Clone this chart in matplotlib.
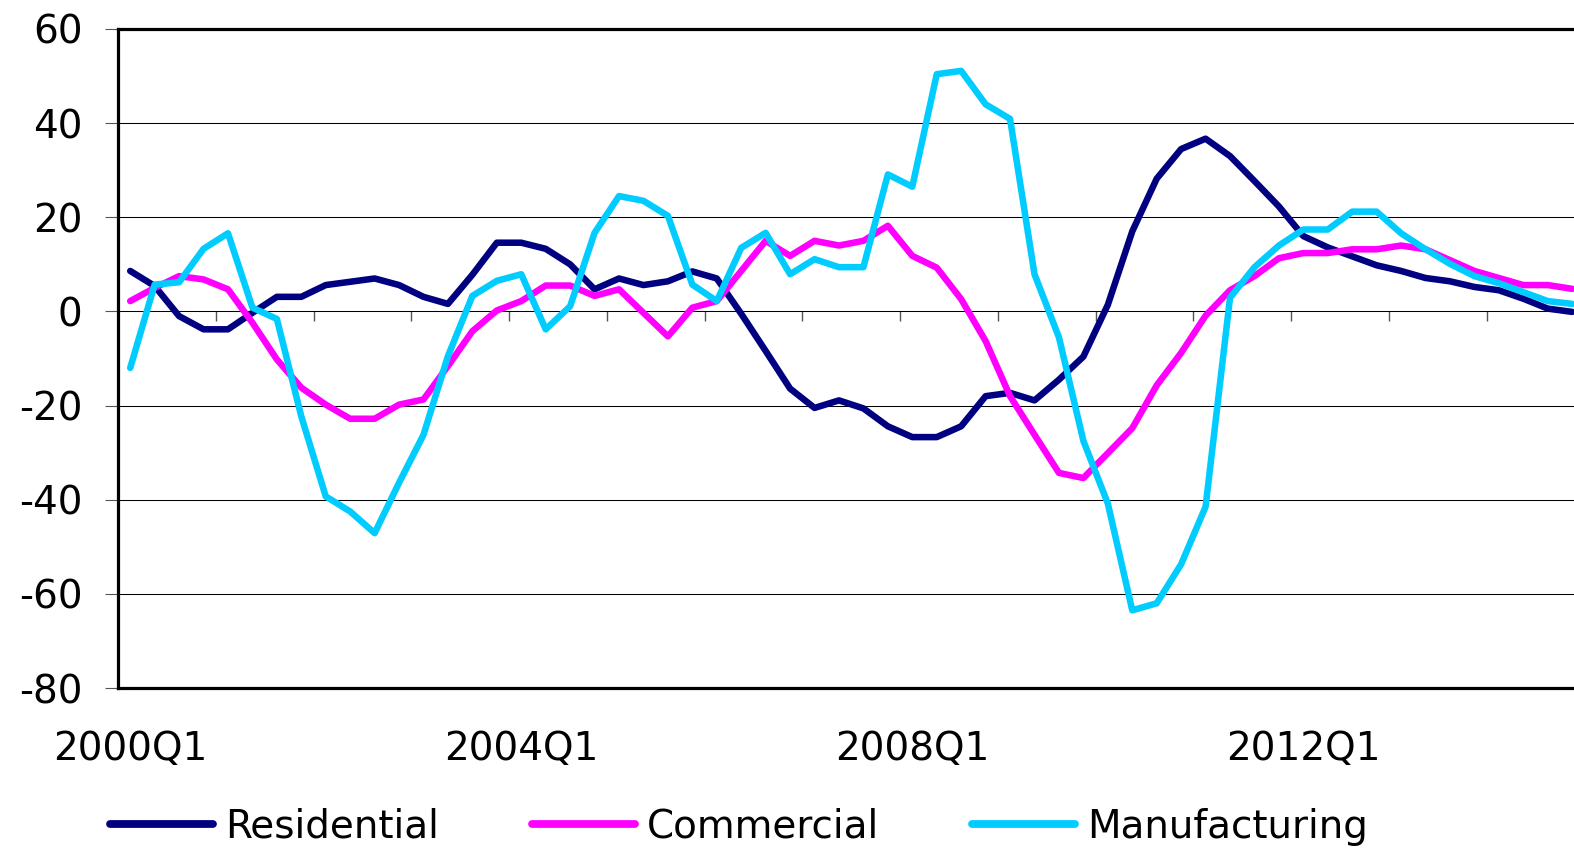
import numpy as np
import matplotlib
matplotlib.use('Agg')
import matplotlib.pyplot as plt

# ---- data ----
years = list(range(2000, 2015))
quarters = [f"{y}Q{q}" for y in years for q in range(1, 5)]

residential = [8.6, 5.4, -1.0, -3.8, -3.8, -0.3, 3.1, 3.1, 5.6, 6.3,
               7.0, 5.6, 3.1, 1.6, 7.8, 14.6, 14.6, 13.3, 10.0, 4.7,
               7.0, 5.6, 6.4, 8.5, 7.0, -0.5, -8.4, -16.4, -20.5, -18.9,
               -20.6, -24.4, -26.7, -26.7, -24.4, -18.0, -17.3, -18.9, -14.5, -9.6,
               1.4, 17.0, 28.2, 34.5, 36.7, 33.0, 27.7, 22.3, 16.0, 13.6,
               11.7, 9.8, 8.6, 7.1, 6.4, 5.2, 4.5, 2.7, 0.6, -0.1]

commercial = [2.2, 5.0, 7.5, 6.8, 4.7, -2.4, -10.2, -16.2, -19.8, -22.8,
              -22.8, -19.8, -18.7, -11.6, -4.2, 0.2, 2.2, 5.5, 5.5, 3.3,
              4.7, -0.3, -5.3, 0.8, 2.2, 8.6, 15.0, 11.8, 15.0, 14.0,
              15.0, 18.2, 11.8, 9.3, 2.6, -6.3, -18.0, -26.2, -34.3, -35.4,
              -30.1, -24.8, -15.7, -8.8, -0.9, 4.5, 7.5, 11.3, 12.4, 12.4,
              13.2, 13.2, 14.0, 13.2, 10.9, 8.6, 7.1, 5.6, 5.6, 4.8]

manufacturing = [-12.0, 5.7, 6.2, 13.3, 16.6, 0.8, -1.6, -22.3, -39.3, -42.5,
                 -47.1, -36.4, -26.2, -9.5, 3.3, 6.5, 7.9, -3.8, 1.1, 16.7,
                 24.5, 23.5, 20.3, 5.7, 2.2, 13.5, 16.7, 7.9, 11.1, 9.4,
                 9.4, 29.1, 26.5, 50.4, 51.1, 44.0, 40.9, 7.9, -5.5, -27.5,
                 -40.8, -63.5, -62.0, -53.7, -41.5, 2.9, 9.4, 14.0, 17.4, 17.4,
                 21.2, 21.2, 16.6, 13.2, 10.1, 7.5, 6.0, 4.1, 2.2, 1.6]

series_names = ['Residential', 'Commercial', 'Manufacturing']
colors = ['#000080', '#FF00FF', '#00CCFF']
tick_labels = ['2000Q1', '2004Q1', '2008Q1', '2012Q1']
y_ticks = [-80, -60, -40, -20, 0, 20, 40, 60]

# ---- plot ----
plt.rcParams['font.family'] = ['DejaVu Sans']
plt.rcParams['axes.unicode_minus'] = False
FS = 28

W, H = 1574, 850
fig = plt.figure(figsize=(W / 100, H / 100), dpi=100)
ax = fig.add_axes([118 / W, 1 - 688 / H, 1466.4 / W, 659 / H])

x = np.arange(len(quarters))
for vals, name, c in zip([residential, commercial, manufacturing], series_names, colors):
    ax.plot(x, vals, color=c, lw=4.7, label=name,
            solid_joinstyle='round', solid_capstyle='round')

ax.set_xlim(-0.5, len(quarters) - 0.5)
ax.set_ylim(min(y_ticks), max(y_ticks))
ax.set_yticks(y_ticks)
ax.yaxis.grid(True, color='black', lw=0.75)
ax.set_axisbelow(True)
ax.spines['right'].set_visible(False)
for s in ['left', 'bottom', 'top']:
    ax.spines[s].set_linewidth(2.3)
ax.tick_params(axis='y', direction='out', length=9.5, width=0.8,
               color='#555555', pad=16, labelsize=FS)

idx = [quarters.index(t) for t in tick_labels]
ax.set_xticks(idx, tick_labels)
ax.tick_params(axis='x', length=0, pad=30, labelsize=FS)

# tick marks on the zero line at year boundaries
sec = ax.secondary_xaxis(0, transform=ax.transData)
sec.set_xticks(np.arange(3.5, len(quarters) - 1, 4))
sec.tick_params(axis='x', direction='out', length=7.5, width=1,
                color='#555555', labelbottom=False, labeltop=False)
for s in sec.spines.values():
    s.set_visible(False)

leg = fig.legend(loc='center left', bbox_to_anchor=(110 / W, 1 - 827 / H), ncol=3,
                 frameon=False, fontsize=FS, handlelength=2.65, handletextpad=0.3,
                 columnspacing=2.4, borderpad=0, borderaxespad=0)
for ln in leg.get_lines():
    ln.set_linewidth(5.6)

fig.savefig('out.png', dpi=100)
